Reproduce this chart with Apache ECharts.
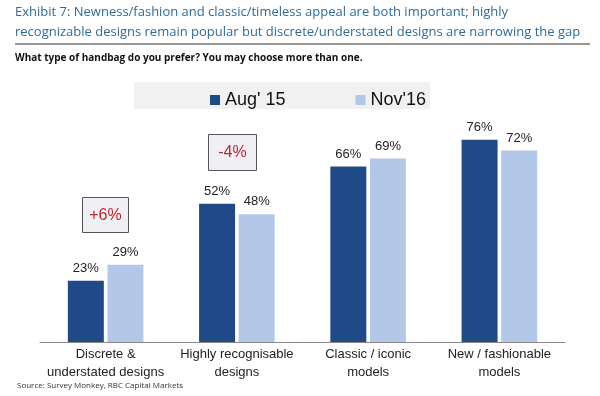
<!DOCTYPE html>
<html>
<head>
<meta charset="utf-8">
<script src="https://cdn.jsdelivr.net/npm/echarts@6/dist/echarts.min.js"></script>
<style>
  html, body { margin: 0; padding: 0; background: #fff; }
  #chart { width: 600px; height: 396px; }
</style>
</head>
<body>
<div id="chart"></div>
<script>
var categories = ['Discrete &\nunderstated designs', 'Highly recognisable\ndesigns', 'Classic / iconic\nmodels', 'New / fashionable\nmodels']
var aug15 = [23, 52, 66, 76]
var nov16 = [29, 48, 69, 72]
var changes = ['+6%', '-4%']

var myChart = echarts.init(document.getElementById('chart'))

var option = {
  animation: false,
  title: {
    text: 'Exhibit 7: Newness/fashion and classic/timeless appeal are both important; highly\nrecognizable designs remain popular but discrete/understated designs are narrowing the gap',
    left: 15,
    top: 2,
    padding: 0,
    textStyle: {
      fontFamily: 'Open Sans',
      fontSize: 13,
      fontWeight: 'normal',
      color: '#2f6b9a',
      lineHeight: 20
    },
    subtext: 'What type of handbag do you prefer? You may choose more than one.',
    itemGap: 11,
    subtextStyle: {
      fontFamily: 'Open Sans',
      fontSize: 10,
      fontWeight: 'bold',
      color: '#111'
    }
  },
  legend: {
    left: 205,
    top: 86,
    itemGap: 70,
    itemWidth: 10,
    itemHeight: 10,
    icon: 'rect',
    data: ["Aug' 15", "Nov'16"],
    textStyle: {
      fontFamily: 'Arial, Liberation Sans',
      fontSize: 18,
      color: '#111'
    }
  },
  grid: {
    left: 40,
    right: 35,
    top: 76,
    bottom: 54
  },
  xAxis: {
    type: 'category',
    data: categories,
    axisLine: { lineStyle: { color: '#888', width: 1 } },
    axisTick: { length: 5, lineStyle: { color: '#888' } },
    axisLabel: {
      fontFamily: 'Arial, Liberation Sans',
      fontSize: 13,
      color: '#222',
      lineHeight: 18,
      margin: 3,
      interval: 0
    }
  },
  yAxis: {
    type: 'value',
    min: 0,
    max: 100,
    show: false
  },
  series: [
    {
      name: "Aug' 15",
      type: 'bar',
      barWidth: 36,
      barGap: '10%',
      itemStyle: { color: '#1f4a87' },
      label: {
        show: true,
        position: 'top',
        formatter: '{c}%',
        distance: 6,
        fontFamily: 'Arial, Liberation Sans',
        fontSize: 13,
        color: '#222'
      },
      data: aug15
    },
    {
      name: "Nov'16",
      type: 'bar',
      barWidth: 36,
      barGap: '10%',
      itemStyle: { color: '#b3c8e8' },
      label: {
        show: true,
        position: 'top',
        formatter: '{c}%',
        distance: 6,
        fontFamily: 'Arial, Liberation Sans',
        fontSize: 13,
        color: '#222'
      },
      data: nov16
    }
  ],
  graphic: [
    {
      type: 'rect',
      z: -1,
      shape: { x: 134, y: 82, width: 296, height: 27 },
      style: { fill: '#f1f1f1' }
    },
    {
      type: 'line',
      shape: { x1: 15, y1: 44, x2: 590, y2: 44 },
      style: { stroke: '#777', lineWidth: 1.5 }
    },
    {
      type: 'group',
      left: 82,
      top: 197,
      children: [
        { type: 'rect', shape: { x: 0, y: 0, width: 46, height: 35 }, style: { fill: '#eef0f4', stroke: '#555', lineWidth: 1 } },
        { type: 'text', x: 23, y: 18, style: { text: changes[0], fill: '#c0272d', fontSize: 16, fontFamily: 'Arial, Liberation Sans', align: 'center', verticalAlign: 'middle' } }
      ]
    },
    {
      type: 'group',
      left: 208,
      top: 134,
      children: [
        { type: 'rect', shape: { x: 0, y: 0, width: 48, height: 36 }, style: { fill: '#eef0f4', stroke: '#555', lineWidth: 1 } },
        { type: 'text', x: 24, y: 18, style: { text: changes[1], fill: '#c0272d', fontSize: 16, fontFamily: 'Arial, Liberation Sans', align: 'center', verticalAlign: 'middle' } }
      ]
    },
    {
      type: 'text',
      left: 17,
      top: 382,
      style: { text: 'Source: Survey Monkey, RBC Capital Markets', fill: '#333', fontSize: 8, fontFamily: 'Open Sans' }
    }
  ]
}

myChart.setOption(option)
</script>
</body>
</html>
